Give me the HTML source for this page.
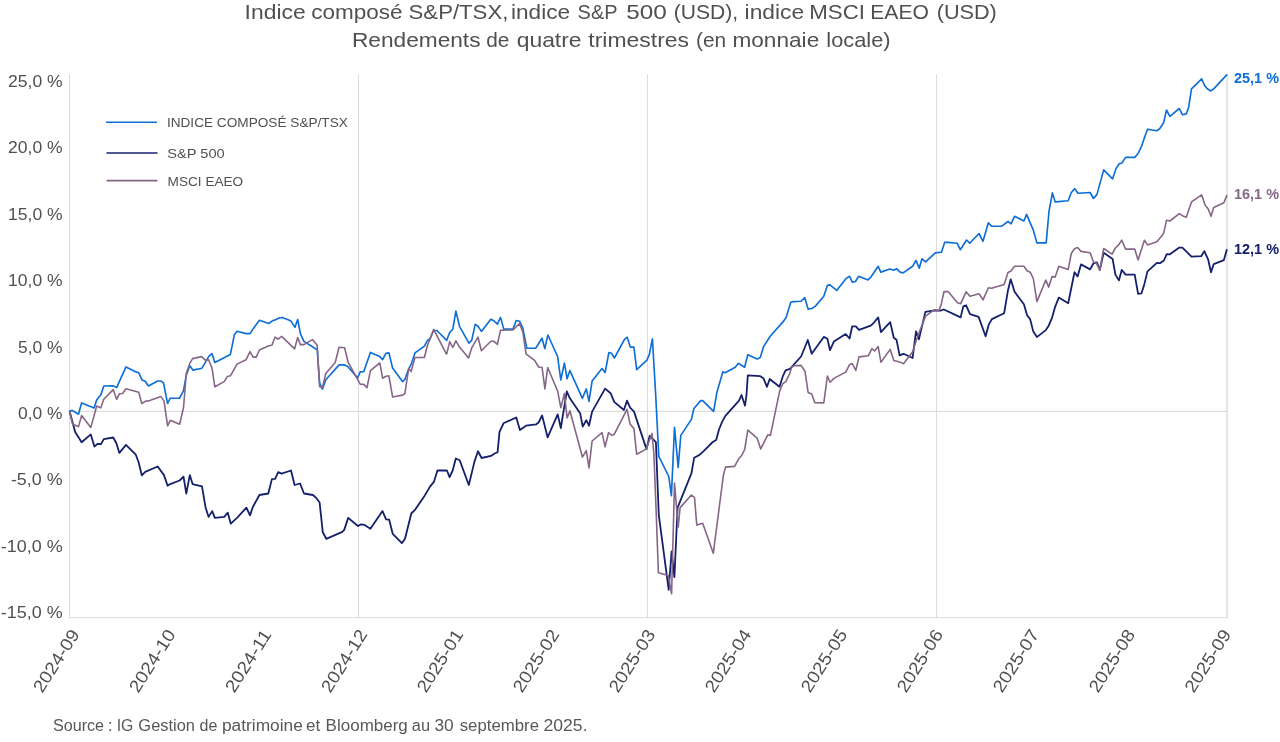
<!DOCTYPE html>
<html lang="fr"><head><meta charset="utf-8"><title>Rendements de quatre trimestres</title>
<style>
html,body{margin:0;padding:0;background:#fff;}
body{width:1280px;height:742px;overflow:hidden;font-family:"Liberation Sans",sans-serif;}
svg{display:block}
text{font-family:"Liberation Sans",sans-serif;}
.t{font-size:21px;fill:#505052}
.yl{font-size:17.2px;fill:#505052;text-anchor:end}
.xl{font-size:17.5px;fill:#505052;text-anchor:end}
.lg{font-size:13px;fill:#505052}
.src{font-size:16px;fill:#58585a}
.el{font-size:14.2px;font-weight:bold}
</style></head><body>
<svg width="1280" height="742" viewBox="0 0 1280 742">
<rect width="1280" height="742" fill="#fff"/>
<text class="t" y="19.4" > <tspan x="244.64" textLength="61.07" lengthAdjust="spacingAndGlyphs">Indice</tspan> <tspan x="311.20" textLength="91.38" lengthAdjust="spacingAndGlyphs">composé</tspan> <tspan x="408.60" textLength="99.72" lengthAdjust="spacingAndGlyphs">S&amp;P/TSX,</tspan> <tspan x="511.03" textLength="59.05" lengthAdjust="spacingAndGlyphs">indice</tspan> <tspan x="577.61" textLength="39.50" lengthAdjust="spacingAndGlyphs">S&amp;P</tspan> <tspan x="626.33" textLength="40.51" lengthAdjust="spacingAndGlyphs">500</tspan> <tspan x="673.74" textLength="64.36" lengthAdjust="spacingAndGlyphs">(USD),</tspan> <tspan x="744.62" textLength="59.47" lengthAdjust="spacingAndGlyphs">indice</tspan> <tspan x="809.32" textLength="55.70" lengthAdjust="spacingAndGlyphs">MSCI</tspan> <tspan x="870.31" textLength="58.62" lengthAdjust="spacingAndGlyphs">EAEO</tspan> <tspan x="936.70" textLength="60.15" lengthAdjust="spacingAndGlyphs">(USD)</tspan> </text>
<text class="t" y="46.6" > <tspan x="351.94" textLength="128.56" lengthAdjust="spacingAndGlyphs">Rendements</tspan> <tspan x="486.27" textLength="23.12" lengthAdjust="spacingAndGlyphs">de</tspan> <tspan x="516.69" textLength="64.86" lengthAdjust="spacingAndGlyphs">quatre</tspan> <tspan x="588.36" textLength="100.63" lengthAdjust="spacingAndGlyphs">trimestres</tspan> <tspan x="696.05" textLength="30.11" lengthAdjust="spacingAndGlyphs">(en</tspan> <tspan x="732.43" textLength="86.81" lengthAdjust="spacingAndGlyphs">monnaie</tspan> <tspan x="826.33" textLength="64.30" lengthAdjust="spacingAndGlyphs">locale)</tspan> </text>
<g stroke="#dcdcdc" stroke-width="1" fill="none">
<line x1="69.5" y1="74" x2="69.5" y2="618"/>
<line x1="358.5" y1="74" x2="358.5" y2="618"/>
<line x1="647.5" y1="74" x2="647.5" y2="618"/>
<line x1="936.5" y1="74" x2="936.5" y2="618"/>
<line x1="1227" y1="74.5" x2="1227" y2="618" stroke-width="1.4"/>
<line x1="69" y1="617.6" x2="1227.7" y2="617.6"/>
<line x1="69.5" y1="411.3" x2="1227" y2="411.3" stroke="#d6d6d6"/>
</g>

<text class="yl" x="62.6" y="86.75" textLength="54.6" lengthAdjust="spacingAndGlyphs">25,0 %</text>
<text class="yl" x="62.6" y="153.19" textLength="54.6" lengthAdjust="spacingAndGlyphs">20,0 %</text>
<text class="yl" x="62.6" y="219.63" textLength="54.6" lengthAdjust="spacingAndGlyphs">15,0 %</text>
<text class="yl" x="62.6" y="286.07" textLength="54.6" lengthAdjust="spacingAndGlyphs">10,0 %</text>
<text class="yl" x="62.6" y="352.51" textLength="44.5" lengthAdjust="spacingAndGlyphs">5,0 %</text>
<text class="yl" x="62.6" y="418.95" textLength="44.5" lengthAdjust="spacingAndGlyphs">0,0 %</text>
<text class="yl" x="62.6" y="485.39" textLength="51.7" lengthAdjust="spacingAndGlyphs">-5,0 %</text>
<text class="yl" x="62.6" y="551.83" textLength="61.800000000000004" lengthAdjust="spacingAndGlyphs">-10,0 %</text>
<text class="yl" x="62.6" y="618.27" textLength="61.800000000000004" lengthAdjust="spacingAndGlyphs">-15,0 %</text>
<text class="xl" transform="translate(80.2,634.3) rotate(-57.5)" textLength="70.5" lengthAdjust="spacingAndGlyphs">2024-09</text>
<text class="xl" transform="translate(176.2,634.3) rotate(-57.5)" textLength="70.5" lengthAdjust="spacingAndGlyphs">2024-10</text>
<text class="xl" transform="translate(272.1,634.3) rotate(-57.5)" textLength="70.5" lengthAdjust="spacingAndGlyphs">2024-11</text>
<text class="xl" transform="translate(368.1,634.3) rotate(-57.5)" textLength="70.5" lengthAdjust="spacingAndGlyphs">2024-12</text>
<text class="xl" transform="translate(464.0,634.3) rotate(-57.5)" textLength="70.5" lengthAdjust="spacingAndGlyphs">2025-01</text>
<text class="xl" transform="translate(560.0,634.3) rotate(-57.5)" textLength="70.5" lengthAdjust="spacingAndGlyphs">2025-02</text>
<text class="xl" transform="translate(656.0,634.3) rotate(-57.5)" textLength="70.5" lengthAdjust="spacingAndGlyphs">2025-03</text>
<text class="xl" transform="translate(751.9,634.3) rotate(-57.5)" textLength="70.5" lengthAdjust="spacingAndGlyphs">2025-04</text>
<text class="xl" transform="translate(847.9,634.3) rotate(-57.5)" textLength="70.5" lengthAdjust="spacingAndGlyphs">2025-05</text>
<text class="xl" transform="translate(943.8,634.3) rotate(-57.5)" textLength="70.5" lengthAdjust="spacingAndGlyphs">2025-06</text>
<text class="xl" transform="translate(1039.8,634.3) rotate(-57.5)" textLength="70.5" lengthAdjust="spacingAndGlyphs">2025-07</text>
<text class="xl" transform="translate(1135.8,634.3) rotate(-57.5)" textLength="70.5" lengthAdjust="spacingAndGlyphs">2025-08</text>
<text class="xl" transform="translate(1231.7,634.3) rotate(-57.5)" textLength="70.5" lengthAdjust="spacingAndGlyphs">2025-09</text>
<g fill="none" stroke-linejoin="round" stroke-linecap="round" stroke-width="1.6">
<polyline stroke="#0d6fd6" stroke-width="1.65" points="69.7,411.3 72.2,410.4 78.5,414.2 81.6,402.9 94.1,407.9 96.7,400.1 101.0,394.6 103.8,386.0 113.2,385.7 116.6,387.6 126.0,366.9 135.1,371.6 138.7,372.7 142.1,380.1 145.2,381.3 148.4,386.0 157.7,381.0 160.9,381.0 163.5,382.9 167.6,403.5 170.2,398.2 179.6,398.2 183.5,390.7 186.3,375.1 189.8,365.7 192.9,370.1 202.0,368.2 208.6,356.6 212.0,353.5 214.8,362.5 230.4,354.4 234.4,334.7 237.0,331.3 246.1,333.6 250.0,333.6 253.1,328.9 259.4,320.3 268.8,323.5 272.7,320.6 275.0,320.0 278.9,318.0 282.1,317.5 287.5,319.5 291.0,321.1 294.9,327.4 297.7,319.5 300.4,333.6 303.9,341.4 317.2,349.7 319.6,382.9 322.4,389.1 325.8,379.7 339.1,364.9 344.6,364.9 347.7,366.5 357.6,377.9 360.2,371.9 363.8,371.6 370.4,352.4 379.8,356.6 382.6,359.7 386.0,353.2 388.9,352.9 392.6,368.0 402.5,381.6 404.8,379.7 408.7,368.8 411.1,364.4 415.0,352.9 424.4,346.1 427.5,340.3 429.8,339.1 433.7,330.5 436.9,330.5 446.7,340.3 449.7,332.5 452.8,329.1 455.9,311.1 459.5,326.3 468.9,343.2 471.7,340.4 475.2,324.4 478.0,326.3 481.4,331.4 490.8,319.2 493.9,320.8 497.4,324.1 500.5,317.4 503.8,329.1 513.0,329.1 516.2,320.5 519.7,321.3 522.9,328.3 526.8,348.2 535.7,348.2 542.0,338.2 544.8,348.6 547.9,335.0 557.6,356.5 560.8,380.0 564.4,363.1 567.1,378.8 569.9,370.6 582.4,398.3 586.3,388.9 589.0,401.4 592.1,381.1 602.0,368.6 605.1,372.5 608.9,352.5 611.5,353.3 614.4,358.0 624.5,339.3 627.2,337.2 630.3,347.1 633.9,347.1 636.7,369.7 646.9,360.2 649.3,354.7 652.4,338.8 655.7,395.0 658.8,456.4 668.8,476.5 671.4,495.7 674.5,427.3 678.2,467.4 680.8,435.4 691.4,419.4 693.9,408.5 700.8,400.6 702.7,400.6 713.6,411.3 716.5,395.0 716.5,393.8 722.8,371.9 725.1,372.7 735.3,367.2 738.4,363.3 744.6,367.2 747.8,354.7 757.2,359.1 760.3,357.5 763.4,346.9 770.4,336.0 783.0,321.9 786.1,317.5 790.8,302.3 793.1,301.6 801.1,301.3 804.7,297.5 808.1,309.1 811.7,308.5 815.2,306.4 823.8,296.3 827.4,285.4 830.0,284.9 836.7,290.4 846.1,278.4 849.6,276.3 852.4,282.3 855.5,281.5 858.6,276.3 868.0,279.9 871.1,276.8 878.2,266.3 880.8,272.1 889.9,269.0 893.8,270.2 896.5,268.7 900.1,272.1 903.2,272.9 912.6,266.3 916.0,260.4 919.2,268.2 922.0,258.8 925.6,261.9 935.3,252.9 941.5,252.2 944.6,242.4 947.8,242.4 957.2,243.2 960.3,249.7 966.5,240.0 969.7,243.2 979.0,233.5 983.0,241.3 988.4,222.8 991.6,226.3 1001.7,226.2 1008.0,221.5 1011.0,223.8 1014.6,216.3 1023.9,221.0 1026.6,214.4 1033.3,230.1 1036.9,242.9 1046.2,242.9 1049.0,211.3 1052.4,192.9 1055.2,201.9 1068.2,200.8 1071.3,192.5 1074.8,188.6 1077.9,193.3 1090.1,192.5 1093.5,198.5 1097.0,194.4 1103.7,169.9 1112.6,178.8 1116.2,168.3 1119.3,163.6 1121.7,163.3 1125.6,157.4 1134.7,157.4 1138.1,153.5 1141.5,146.4 1144.4,137.8 1147.5,129.2 1156.6,130.8 1159.7,128.8 1163.7,122.5 1166.5,110.0 1169.9,116.3 1179.3,108.5 1182.4,114.7 1186.3,113.9 1188.7,106.9 1191.5,88.9 1201.7,78.8 1204.3,85.0 1207.0,88.5 1210.6,91.0 1213.7,88.9 1226.7,74.9"/>
<polyline stroke="#14206b" stroke-width="1.8" points="69.7,411.7 72.5,421.9 75.2,432.1 81.6,442.2 90.8,434.4 94.4,446.6 97.5,443.8 101.0,444.1 103.8,439.1 113.2,437.5 116.3,443.0 119.4,452.9 126.0,444.9 135.8,454.7 138.7,462.5 141.8,475.4 145.2,471.9 157.7,466.5 164.0,475.1 167.6,485.7 170.2,484.1 179.6,480.5 183.5,476.6 186.3,493.5 189.8,475.1 192.6,484.1 202.0,486.3 205.5,507.2 208.6,516.9 212.2,511.1 214.9,517.9 224.2,516.9 227.8,512.7 230.8,523.7 237.5,517.4 246.4,507.6 250.0,515.4 252.7,507.2 259.4,495.0 268.3,493.5 271.9,479.1 275.1,478.8 278.2,472.1 281.6,473.6 291.0,470.5 294.6,485.0 300.1,483.5 304.0,493.5 312.9,495.0 316.5,498.2 319.6,502.5 322.8,532.3 326.3,538.8 342.3,531.9 344.2,529.9 348.2,517.9 357.9,526.0 361.1,524.4 364.2,524.8 370.4,528.7 382.5,511.1 386.1,519.4 389.2,519.7 392.7,533.8 401.9,543.2 405.0,538.8 411.3,513.5 415.2,509.6 423.8,497.1 430.0,486.6 433.9,481.9 437.4,470.5 446.9,470.5 449.6,477.2 452.7,470.5 455.8,458.5 459.7,460.3 468.8,485.0 474.6,461.1 478.0,451.3 481.6,458.0 491.0,455.9 494.2,453.8 497.6,452.2 499.5,431.9 503.5,423.3 516.3,417.5 519.9,430.1 526.1,425.7 536.0,424.4 538.6,422.5 542.1,415.5 547.6,437.4 557.7,414.4 560.8,428.0 566.8,391.3 569.9,398.3 580.1,413.2 582.7,426.5 586.3,420.2 589.0,425.7 592.1,411.6 605.1,388.6 610.6,393.2 614.2,401.9 623.9,410.0 627.0,400.7 630.1,407.7 634.0,411.6 646.5,449.1 649.7,435.8 655.9,442.1 658.8,515.1 668.7,589.8 671.6,551.3 674.4,577.2 677.6,507.6 691.4,473.3 694.2,457.7 699.5,454.9 703.9,450.8 712.7,442.0 716.2,439.9 719.0,429.5 722.1,421.9 725.2,416.1 739.0,400.6 741.5,395.0 745.0,405.7 746.5,395.0 747.8,375.4 760.3,376.2 763.4,378.2 767.0,386.8 769.7,379.0 779.5,386.8 783.0,375.8 785.6,370.4 790.0,368.8 801.1,356.5 807.8,340.0 811.7,353.8 823.8,336.9 827.4,338.8 830.0,350.2 833.9,341.6 845.7,334.1 849.6,338.5 852.2,326.3 855.8,326.3 859.0,329.9 870.7,325.7 873.8,322.8 878.2,317.4 880.9,332.2 890.2,322.1 893.8,337.7 896.5,339.7 899.6,355.4 903.5,353.8 912.6,358.0 916.0,331.4 918.9,339.3 925.4,311.9 934.8,310.3 940.3,310.6 943.9,309.5 960.6,317.4 963.3,306.4 966.1,305.3 970.0,314.2 978.6,316.9 985.6,336.3 988.8,324.6 991.9,319.1 1004.1,313.3 1008.0,290.2 1010.7,279.3 1014.6,291.8 1023.9,304.3 1027.1,315.2 1030.2,319.4 1033.3,331.6 1036.9,337.1 1045.8,330.1 1048.7,325.7 1052.1,317.6 1055.2,306.6 1058.8,297.6 1068.2,303.2 1074.5,272.2 1077.6,276.6 1081.0,264.4 1090.1,269.4 1093.5,263.2 1097.0,262.5 1099.8,269.9 1103.7,252.7 1112.6,258.9 1115.4,274.6 1118.9,280.4 1121.7,269.9 1125.6,274.6 1134.7,274.6 1138.1,293.8 1141.5,293.3 1144.4,283.9 1147.5,271.4 1156.9,262.8 1160.0,263.2 1163.9,260.5 1166.7,254.2 1169.9,254.3 1179.3,247.6 1182.4,247.6 1191.5,256.6 1201.2,256.2 1204.3,251.1 1208.2,259.7 1211.0,272.3 1213.7,264.1 1223.9,260.1 1226.7,249.9"/>
<polyline stroke="#866686" points="69.7,411.7 72.5,424.2 78.5,426.6 81.6,415.6 90.8,427.4 94.1,415.6 96.7,406.0 100.7,407.9 103.8,399.3 113.2,389.6 116.6,399.3 119.4,393.8 122.5,393.5 126.0,388.8 138.7,392.3 141.8,403.5 145.2,401.3 148.4,400.9 160.9,396.6 164.0,400.9 167.6,425.8 170.2,420.3 179.6,424.2 183.5,407.8 186.3,373.5 189.8,363.3 192.6,358.6 201.5,356.6 205.4,360.2 208.6,359.7 212.0,368.0 214.8,386.8 224.2,381.6 227.3,376.6 230.4,375.8 237.0,364.1 246.1,359.7 250.0,351.6 253.1,357.1 256.2,357.1 259.4,350.0 268.8,345.7 271.9,345.3 275.0,337.2 278.1,339.1 281.7,336.4 294.6,348.8 297.7,337.5 300.4,344.6 303.9,344.6 312.5,339.6 317.2,345.3 319.6,386.8 322.4,387.6 325.8,373.5 335.2,362.5 339.1,347.2 344.6,347.7 348.2,362.5 360.2,384.1 363.8,384.4 367.0,387.6 370.4,370.7 379.8,362.9 382.6,378.2 386.0,376.3 388.9,375.8 392.6,397.0 402.5,395.1 404.8,393.8 408.7,368.5 411.1,371.6 415.0,357.5 424.4,357.5 427.5,345.3 433.7,329.4 446.3,353.8 446.7,353.9 449.7,341.6 452.8,347.5 455.9,340.8 459.5,347.1 468.6,358.0 471.7,347.9 478.0,337.2 481.4,350.7 490.8,341.3 493.9,341.3 497.4,344.4 500.5,330.3 513.0,329.9 516.2,326.7 519.7,323.6 522.9,332.2 526.0,353.8 534.6,360.4 538.6,367.0 542.1,367.5 544.9,388.9 547.7,367.5 557.7,391.3 560.8,407.7 564.4,393.6 567.1,417.9 569.9,410.8 582.4,457.0 586.3,450.7 589.0,467.9 592.1,441.0 602.0,432.7 605.1,446.8 608.5,432.7 612.1,435.4 614.2,434.3 627.0,409.3 630.1,424.1 634.0,428.8 636.7,454.3 646.1,449.1 652.0,433.5 653.9,453.8 656.3,515.1 658.4,572.8 668.3,575.6 671.6,593.8 674.5,483.1 678.2,527.0 680.1,507.6 691.4,495.0 694.5,497.5 696.8,525.1 702.7,523.2 713.3,553.3 723.4,475.2 725.5,467.1 734.6,466.4 739.0,458.3 741.5,455.8 744.7,449.5 747.8,430.1 757.2,438.2 760.7,448.9 767.8,434.8 770.4,435.4 779.6,391.4 782.7,383.9 785.9,381.4 789.6,373.9 791.5,367.6 794.0,365.7 801.1,365.4 805.0,371.3 808.1,392.4 811.7,394.0 814.7,402.6 823.8,402.9 827.4,376.0 830.0,382.3 833.9,378.4 845.7,372.1 849.6,364.7 852.2,363.5 855.8,370.5 859.0,356.9 868.4,355.7 871.9,348.6 874.6,351.0 878.2,346.6 880.9,362.2 890.2,349.4 893.8,360.4 899.6,361.9 903.5,363.8 912.6,351.8 917.6,336.4 922.3,324.5 925.6,316.1 934.2,309.8 938.9,310.6 941.2,304.4 944.0,291.5 948.1,291.6 957.5,302.8 960.6,303.8 966.1,291.9 970.0,296.3 979.0,293.7 983.0,299.9 988.4,287.7 991.6,288.2 1004.1,284.4 1008.0,272.5 1011.0,271.0 1014.6,266.3 1023.9,266.3 1027.1,270.7 1030.2,272.2 1033.3,278.5 1036.9,301.6 1045.8,280.0 1048.7,287.1 1052.1,276.6 1055.2,276.9 1058.8,266.3 1068.2,269.4 1071.3,253.5 1074.5,248.8 1077.6,247.5 1081.0,251.4 1090.1,252.7 1093.5,262.1 1096.3,262.8 1099.8,270.3 1103.7,248.5 1112.0,254.2 1115.4,248.0 1118.6,244.9 1121.7,240.2 1125.6,249.1 1134.7,249.1 1138.1,260.0 1144.4,240.2 1147.5,244.9 1156.9,241.7 1160.8,237.0 1163.7,233.2 1166.5,220.3 1169.9,221.0 1179.3,213.6 1182.4,215.7 1186.3,217.2 1191.5,201.9 1201.7,194.9 1205.1,205.0 1208.2,208.9 1211.0,216.3 1213.7,207.4 1223.9,202.7 1226.7,195.6"/>
</g>
<g stroke-width="1.6">
<line x1="106" y1="122.3" x2="157" y2="122.3" stroke="#0d6fd6"/>
<line x1="106.5" y1="153" x2="157.5" y2="153" stroke="#14206b"/>
<line x1="106.5" y1="180.6" x2="157.5" y2="180.6" stroke="#866686"/>
</g>
<text class="lg" x="166.9" y="127" textLength="181" lengthAdjust="spacingAndGlyphs">INDICE COMPOSÉ S&amp;P/TSX</text>
<text class="lg" x="167.2" y="157.7" textLength="57.6" lengthAdjust="spacingAndGlyphs">S&amp;P 500</text>
<text class="lg" x="167.6" y="186.1" textLength="75.6" lengthAdjust="spacingAndGlyphs">MSCI EAEO</text>
<text class="el" x="1234" y="82.8" fill="#0d6fd6" textLength="45" lengthAdjust="spacingAndGlyphs">25,1 %</text>
<text class="el" x="1234" y="198.8" fill="#866686" textLength="45" lengthAdjust="spacingAndGlyphs">16,1 %</text>
<text class="el" x="1234" y="253.5" fill="#14206b" textLength="45" lengthAdjust="spacingAndGlyphs">12,1 %</text>
<text class="src" y="730.5" > <tspan x="53.02" textLength="51.06" lengthAdjust="spacingAndGlyphs">Source</tspan> <tspan x="107.89" textLength="4.97" lengthAdjust="spacingAndGlyphs">:</tspan> <tspan x="116.68" textLength="16.63" lengthAdjust="spacingAndGlyphs">IG</tspan> <tspan x="138.38" textLength="56.61" lengthAdjust="spacingAndGlyphs">Gestion</tspan> <tspan x="199.56" textLength="17.80" lengthAdjust="spacingAndGlyphs">de</tspan> <tspan x="221.98" textLength="80.79" lengthAdjust="spacingAndGlyphs">patrimoine</tspan> <tspan x="306.02" textLength="14.13" lengthAdjust="spacingAndGlyphs">et</tspan> <tspan x="325.64" textLength="82.18" lengthAdjust="spacingAndGlyphs">Bloomberg</tspan> <tspan x="411.85" textLength="18.15" lengthAdjust="spacingAndGlyphs">au</tspan> <tspan x="434.51" textLength="19.24" lengthAdjust="spacingAndGlyphs">30</tspan> <tspan x="459.70" textLength="79.36" lengthAdjust="spacingAndGlyphs">septembre</tspan> <tspan x="543.62" textLength="43.90" lengthAdjust="spacingAndGlyphs">2025.</tspan> </text>
</svg>
</body></html>
